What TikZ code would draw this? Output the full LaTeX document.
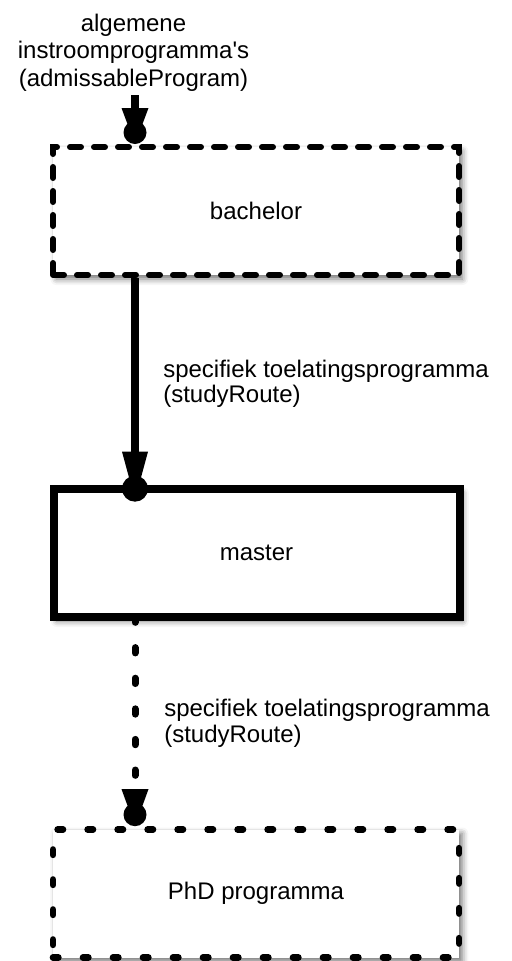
\documentclass[tikz,border=0pt]{standalone}
\usepackage{fontspec}
\setmainfont{Liberation Sans}
\usetikzlibrary{shadows.blur}
\newcommand\mytipdown[5]{% #1 apex coordinate, #2 triangle length, #3 half width, #4 circle radius, #5 circle centre offset above apex
  \fill (#1) -- ++(-#3,-#2) -- ++(2*#3,0) -- cycle;
  \fill (#1) ++(0,-#5) circle[radius=#4];
}
\begin{document}
\begin{tikzpicture}[x=0.75pt,y=-0.75pt,
  txt/.style={font=\fontsize{18pt}{19.1pt}\selectfont, inner sep=0pt},
  boxbase/.style={rectangle, fill=white, minimum width=304.5pt, minimum height=96pt,
    txt, blur shadow={shadow xshift=2.5pt, shadow yshift=-3pt, shadow blur radius=4.5pt, shadow opacity=55}},
  dashbox/.style={boxbase, draw, line width=4.5pt, line cap=round, dash pattern=on 8.25pt off 9.75pt},
  solidbox/.style={boxbase, draw, line width=6pt},
  dotbox/.style={boxbase, draw, line width=5pt, line cap=round, dash pattern=on 4pt off 18.5pt},
  solidline/.style={line width=5.5pt},
  dotline/.style={line width=5.25pt, line cap=round, dash pattern=on 4pt off 18.95pt}
]
\useasboundingbox (0,0) rectangle (511,961);

% nodes
\node[txt, align=center, anchor=north, font=\fontsize{18pt}{20.7pt}\selectfont] (title) at (133.5,13.5)
  {algemene\\instroomprogramma\textquotesingle s\\(admissableProgram)};
\node[dashbox] (bachelor) at (256,211) {bachelor};
\node[solidbox] (master) at (256.5,553) {master};
\node[dotbox] (phd) at (256,893.5) {PhD programma};
\node[txt, align=left, anchor=north west] (lab1) at (163,359.8)
  {specifiek toelatingsprogramma\\(studyRoute)};
\node[txt, align=left, anchor=north west] (lab2) at (164,699.2)
  {specifiek toelatingsprogramma\\(studyRoute)};

% coordinates along the connector axis
\coordinate (axis) at (135,0);
\coordinate (in1) at (135,95);
\coordinate (t1) at (in1 |- bachelor.north);
\coordinate (t2) at ([yshift=-11pt]axis |- master.north);
\coordinate (t3) at (axis |- phd.north);

% connectors
\draw[solidline] (in1) -- ([yshift=12pt]t1);
\mytipdown{t1}{36}{13.5}{11.5}{11.5}
\draw[solidline] (axis |- bachelor.south) -- ([yshift=30pt]t2);
\mytipdown{t2}{48}{13}{13}{11}
\draw[dotline] ([yshift=3pt]axis |- master.south) -- ([yshift=27pt]t3);
\mytipdown{t3}{37}{13.5}{11.5}{11.5}
\end{tikzpicture}
\end{document}
